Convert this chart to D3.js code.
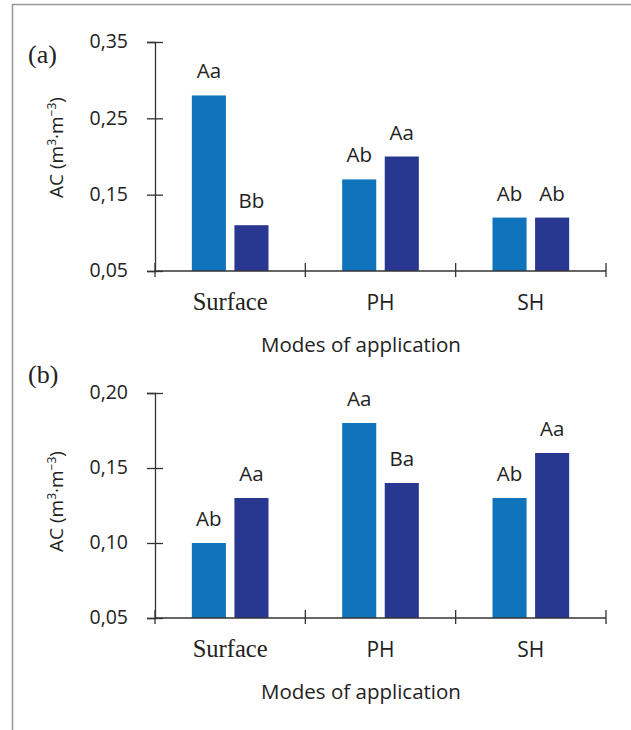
<!DOCTYPE html>
<html>
<head>
<meta charset="utf-8">
<script src="https://cdn.jsdelivr.net/npm/d3@7"></script>
<style>
  body { margin: 0; background: #fff; }
  text { font-family: "Open Sans", sans-serif; fill: #222; }
  .serif { font-family: "Liberation Serif", "DejaVu Serif", serif; }
</style>
</head>
<body>
<svg id="chart" width="631" height="730"></svg>
<script>
const modes = ["Surface", "PH", "SH"];
const series = ["s1", "s2"];
// panel (a)
const valuesA1 = [0.28, 0.17, 0.12];
const valuesA2 = [0.11, 0.20, 0.12];
const lettersA1 = ["Aa", "Ab", "Ab"];
const lettersA2 = ["Bb", "Aa", "Ab"];
const ticksA = [0.05, 0.15, 0.25, 0.35];
// panel (b)
const valuesB1 = [0.10, 0.18, 0.13];
const valuesB2 = [0.13, 0.14, 0.16];
const lettersB1 = ["Ab", "Aa", "Ab"];
const lettersB2 = ["Aa", "Ba", "Aa"];
const ticksB = [0.05, 0.10, 0.15, 0.20];

const colors = ["#1074bc", "#283891"];

const svg = d3.select("#chart");

// frame lines (top and left)
svg.append("line").attr("x1", 12).attr("x2", 631).attr("y1", 4.5).attr("y2", 4.5)
  .attr("stroke", "#999").attr("stroke-width", 1.5);
svg.append("line").attr("x1", 12.5).attr("x2", 12.5).attr("y1", 4).attr("y2", 730)
  .attr("stroke", "#999").attr("stroke-width", 1.5);

function drawPanel(tag, top, bottom, ticks, v1, v2, l1, l2) {
  const g = svg.append("g");
  const left = 155, right = 606;

  const y = d3.scaleLinear().domain([ticks[0], ticks[ticks.length - 1]]).range([bottom, top]);
  const x0 = d3.scaleBand().domain(modes).range([left, right]).padding(0);
  const x1 = d3.scaleBand().domain(series)
    .range([x0.bandwidth() * 0.245, x0.bandwidth() * 0.755]).paddingInner(0.2);

  const rows = modes.map((m, i) => ({ mode: m, vals: [v1[i], v2[i]], lets: [l1[i], l2[i]] }));

  const grp = g.selectAll("g.grp").data(rows).enter().append("g")
    .attr("transform", d => `translate(${x0(d.mode)},0)`);

  grp.selectAll("rect")
    .data(d => d.vals.map((v, j) => ({ s: series[j], v: v, j: j })))
    .enter().append("rect")
    .attr("x", d => x1(d.s))
    .attr("width", x1.bandwidth())
    .attr("y", d => y(d.v))
    .attr("height", d => bottom - y(d.v))
    .attr("fill", d => colors[d.j]);

  grp.selectAll("text.let")
    .data(d => d.lets.map((t, j) => ({ s: series[j], t: t, v: d.vals[j] })))
    .enter().append("text")
    .attr("class", "let")
    .attr("x", d => x1(d.s) + x1.bandwidth() / 2)
    .attr("y", d => y(d.v) - 17)
    .attr("text-anchor", "middle")
    .style("font-size", "20.5px")
    .text(d => d.t);

  // y axis
  const yAxis = g.append("g").attr("transform", `translate(${left},0)`)
    .call(d3.axisLeft(y).tickValues(ticks).tickSizeOuter(0).tickSize(8)
      .tickFormat(d => d3.format(".2f")(d).replace(".", ",")));
  yAxis.select(".domain").attr("stroke", "#333").attr("stroke-width", 1.3);
  yAxis.selectAll(".tick line").attr("x1", 8).attr("x2", -8).attr("stroke", "#333").attr("stroke-width", 1.3);
  yAxis.selectAll(".tick text").attr("x", -27).attr("dy", "0.3em").style("font-size", "19.5px")
    .style("font-family", "'Open Sans', sans-serif").attr("fill", "#222");

  // x axis
  const xg = g.append("g").attr("transform", `translate(0,${bottom})`);
  xg.append("line").attr("x1", left).attr("x2", right).attr("stroke", "#333").attr("stroke-width", 1.3);
  const bounds = modes.map(m => x0(m)).concat([right]);
  xg.selectAll("line.tk").data(bounds).enter().append("line")
    .attr("class", "tk").attr("x1", d => d).attr("x2", d => d)
    .attr("y1", -8).attr("y2", 6).attr("stroke", "#333").attr("stroke-width", 1.3);
  const cats = xg.selectAll("text.cat").data(modes).enter().append("text")
    .attr("class", d => d === "Surface" ? "cat serif" : "cat")
    .attr("x", d => x0(d) + x0.bandwidth() / 2)
    .attr("y", 39)
    .attr("text-anchor", "middle")
    .style("font-size", d => d === "Surface" ? "26px" : "21px")
    .text(d => d);
  cats.filter(d => d === "Surface")
    .attr("textLength", 75).attr("lengthAdjust", "spacingAndGlyphs");

  g.append("text")
    .attr("x", 361).attr("y", bottom + 81)
    .attr("text-anchor", "middle")
    .style("font-size", "20.5px")
    .text("Modes of application");

  // y title
  const yt = g.append("text")
    .attr("transform", `translate(63,${(top + bottom) / 2 + tag.ty}) rotate(-90)`)
    .attr("text-anchor", "middle")
    .style("font-size", "19px");
  yt.append("tspan").text("AC (m");
  yt.append("tspan").attr("dy", -7).style("font-size", "12px").text("3");
  yt.append("tspan").attr("dy", 7).text("·m");
  yt.append("tspan").attr("dy", -7).style("font-size", "12px").text("−3");
  yt.append("tspan").attr("dy", 7).text(")");

  g.append("text").attr("class", "serif")
    .attr("x", 28).attr("y", top + tag.dy)
    .style("font-size", "26px")
    .text(tag.t);
}

drawPanel({ t: "(a)", dy: 21, ty: -9 }, 42, 271, ticksA, valuesA1, valuesA2, lettersA1, lettersA2);
drawPanel({ t: "(b)", dy: -10, ty: -4 }, 393, 618, ticksB, valuesB1, valuesB2, lettersB1, lettersB2);
</script>
</body>
</html>
